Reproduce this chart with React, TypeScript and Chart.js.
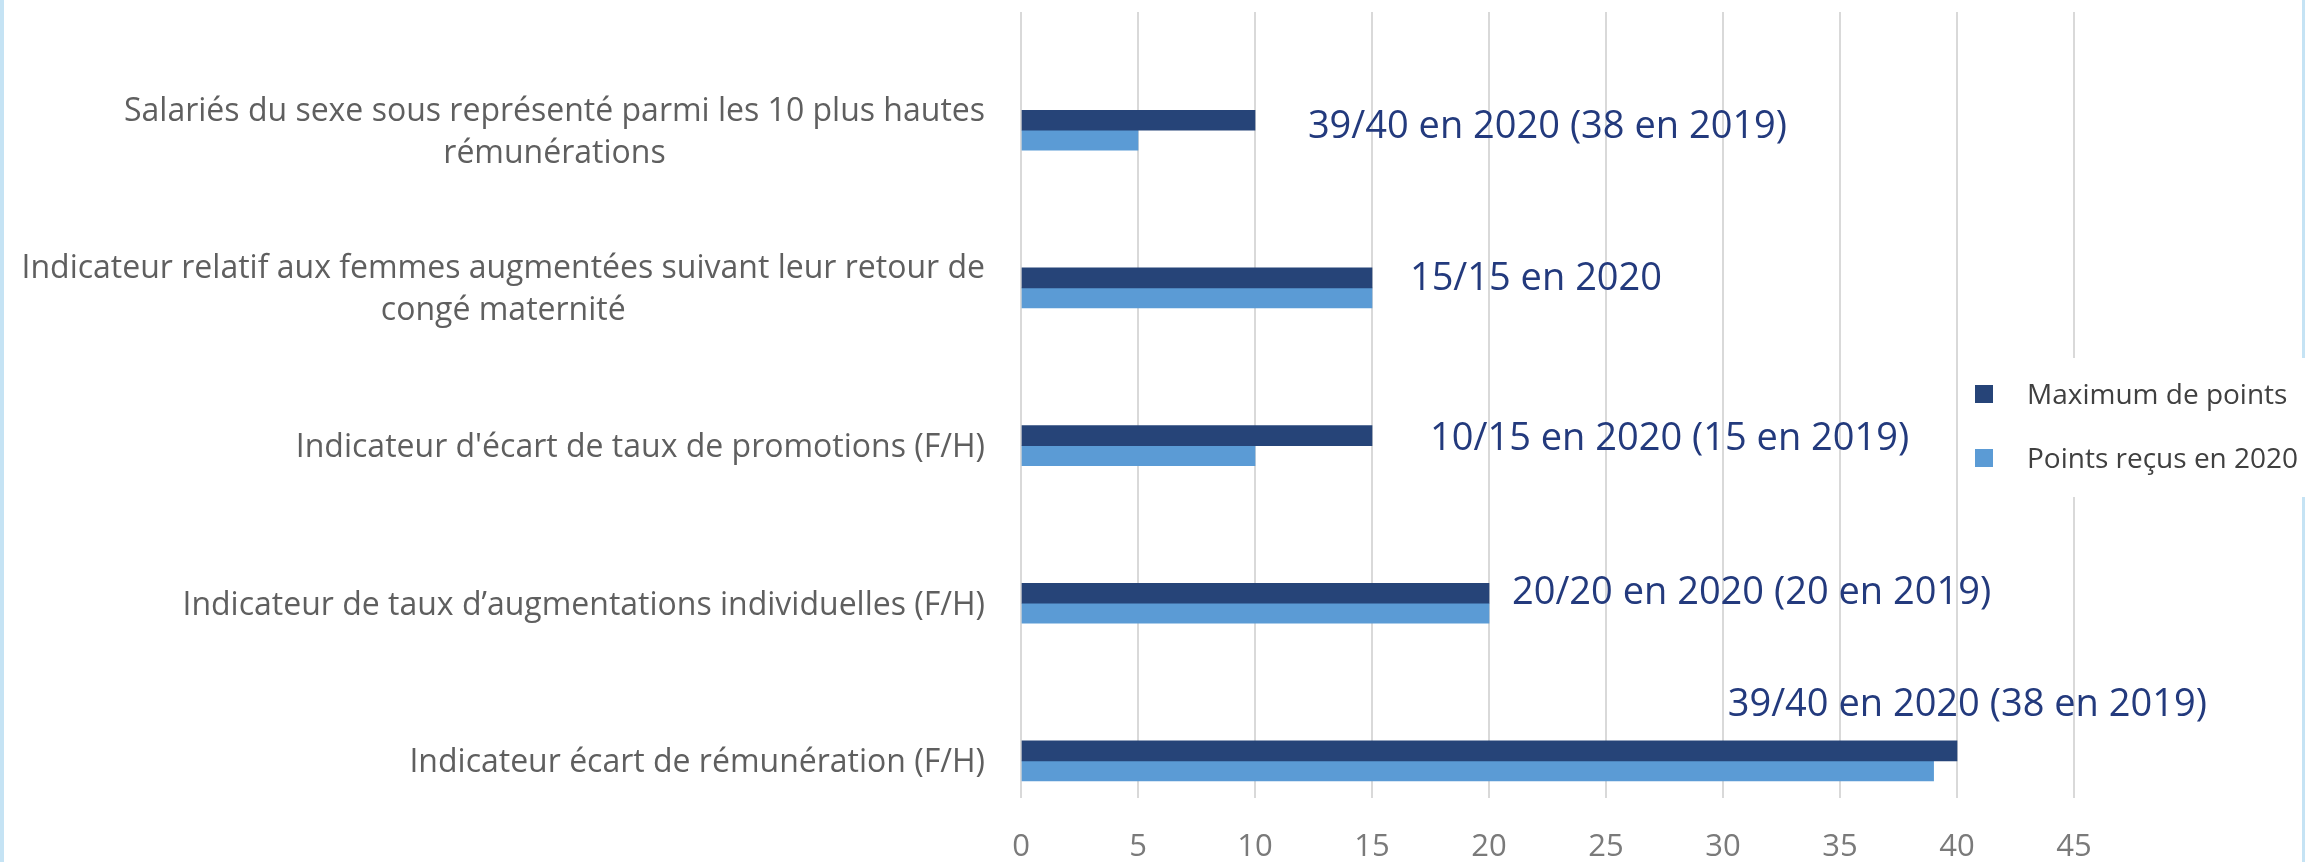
import React, { useEffect, useRef } from 'react';
import { Chart, registerables } from 'chart.js';

Chart.register(...registerables);

// ---------- data ----------
const categories: string[][] = [
  ['Salariés du sexe sous représenté parmi les 10 plus hautes', 'rémunérations'],
  ['Indicateur relatif aux femmes augmentées suivant leur retour de', 'congé maternité'],
  ["Indicateur d'écart de taux de promotions (F/H)"],
  ['Indicateur de taux d’augmentations individuelles (F/H)'],
  ['Indicateur écart de rémunération (F/H)'],
];
const seriesNames = ['Maximum de points', 'Points reçus en 2020'];
const maxPoints = [10, 15, 15, 20, 40];
const receivedPoints = [5, 15, 10, 20, 39];
const annotationTexts = [
  '39/40 en 2020 (38 en 2019)',
  '15/15 en 2020',
  '10/15 en 2020 (15 en 2019)',
  '20/20 en 2020 (20 en 2019)',
  '39/40 en 2020 (38 en 2019)',
];
// annotation anchors (left edge in axis units, vertical centre in category-index units)
const annotationX = [12.26, 16.62, 17.48, 20.98, 30.2];
const annotationY = [-0.04, 0.93, 1.945, 2.916, 3.63];
const xMin = 0;
const xMax = 45;
const xStep = 5;

// ---------- styles ----------
const DARK = '#264478';
const LIGHT = '#5b9bd5';
const FONT = '"Open Sans", "Noto Sans", sans-serif';
const LABEL_SIZE = 32;
const LABEL_GAP = 42;
const CAP = 0.714;

const overlayPlugin = {
  id: 'overlay',
  afterDraw(chart: any) {
    const ctx: CanvasRenderingContext2D = chart.ctx;
    const xs = chart.scales.x;
    const ys = chart.scales.y;
    const area = chart.chartArea;
    ctx.save();

    // category labels
    ctx.font = `${LABEL_SIZE}px ${FONT}`;
    ctx.fillStyle = '#5f5f5f';
    ctx.textBaseline = 'alphabetic';
    ctx.textAlign = 'center';
    const labelRight = area.left - 36;
    categories.forEach((lines, i) => {
      const cy = ys.getPixelForValue(i);
      const w = Math.max(...lines.map((l) => ctx.measureText(l).width));
      const cx = labelRight - w / 2;
      lines.forEach((l, j) => {
        const ly = cy + (j - (lines.length - 1) / 2) * LABEL_GAP;
        ctx.fillText(l, cx, ly + (CAP * LABEL_SIZE) / 2);
      });
    });

    // annotations
    const annSize = 38;
    ctx.font = `${annSize}px ${FONT}`;
    ctx.fillStyle = '#233a7d';
    ctx.textAlign = 'left';
    annotationTexts.forEach((t, i) => {
      const px = xs.getPixelForValue(annotationX[i]);
      const py = ys.getPixelForValue(annotationY[i]);
      ctx.fillText(t, px, py + (CAP * annSize) / 2);
    });

    // legend
    const legSize = 28;
    const legX = area.right - 99;
    const legY0 = 394;
    const legGap = 64;
    ctx.fillStyle = '#ffffff';
    ctx.fillRect(legX - 12, 358, chart.width - (legX - 12), 139);
    ctx.font = `${legSize}px ${FONT}`;
    ctx.textAlign = 'left';
    chart.data.datasets.forEach((ds: any, i: number) => {
      const cy = legY0 + i * legGap;
      ctx.fillStyle = ds.backgroundColor;
      ctx.fillRect(legX, cy - 9, 18, 18);
      ctx.fillStyle = '#404040';
      ctx.fillText(ds.label, legX + 52, cy + (CAP * legSize) / 2);
    });

    ctx.restore();
  },
};

export default function App() {
  const canvasRef = useRef<HTMLCanvasElement | null>(null);

  useEffect(() => {
    document.body.style.margin = '0';
    const canvas = canvasRef.current;
    if (!canvas) return;
    const chart = new Chart(canvas, {
      type: 'bar',
      data: {
        datasets: [
          {
            label: seriesNames[0],
            data: maxPoints.map((v, i) => ({ x: v, y: i })),
            backgroundColor: DARK,
            barThickness: 20,
          },
          {
            label: seriesNames[1],
            data: receivedPoints.map((v, i) => ({ x: v, y: i })),
            backgroundColor: LIGHT,
            barThickness: 20,
          },
        ],
      },
      plugins: [overlayPlugin],
      options: {
        indexAxis: 'y',
        responsive: false,
        animation: false,
        devicePixelRatio: 1,
        layout: { padding: { left: 1021, right: 231, top: 12, bottom: -34 } },
        plugins: {
          legend: { display: false },
          tooltip: { enabled: false },
        },
        scales: {
          x: {
            type: 'linear',
            position: 'bottom',
            min: xMin,
            max: xMax,
            grid: { color: '#d9d9d9', lineWidth: 2, drawTicks: false },
            border: { display: false },
            ticks: {
              stepSize: xStep,
              padding: 33.5,
              color: '#7a7a7a',
              font: { family: FONT, size: 31, lineHeight: 1 },
            },
          },
          y: {
            type: 'linear',
            display: false,
            reverse: true,
            offset: false,
            grid: { offset: false },
            min: -0.75,
            max: 4.235,
          },
        },
      } as any,
    });
    return () => chart.destroy();
  }, []);

  return (
    <div
      style={{
        width: 2305,
        height: 862,
        position: 'relative',
        background: '#ffffff',
        boxShadow: 'inset 4px 0 0 #c5e3f4, inset -3px 0 0 #c5e3f4',
      }}
    >
      <canvas ref={canvasRef} width={2305} height={862} style={{ display: 'block' }} />
    </div>
  );
}
